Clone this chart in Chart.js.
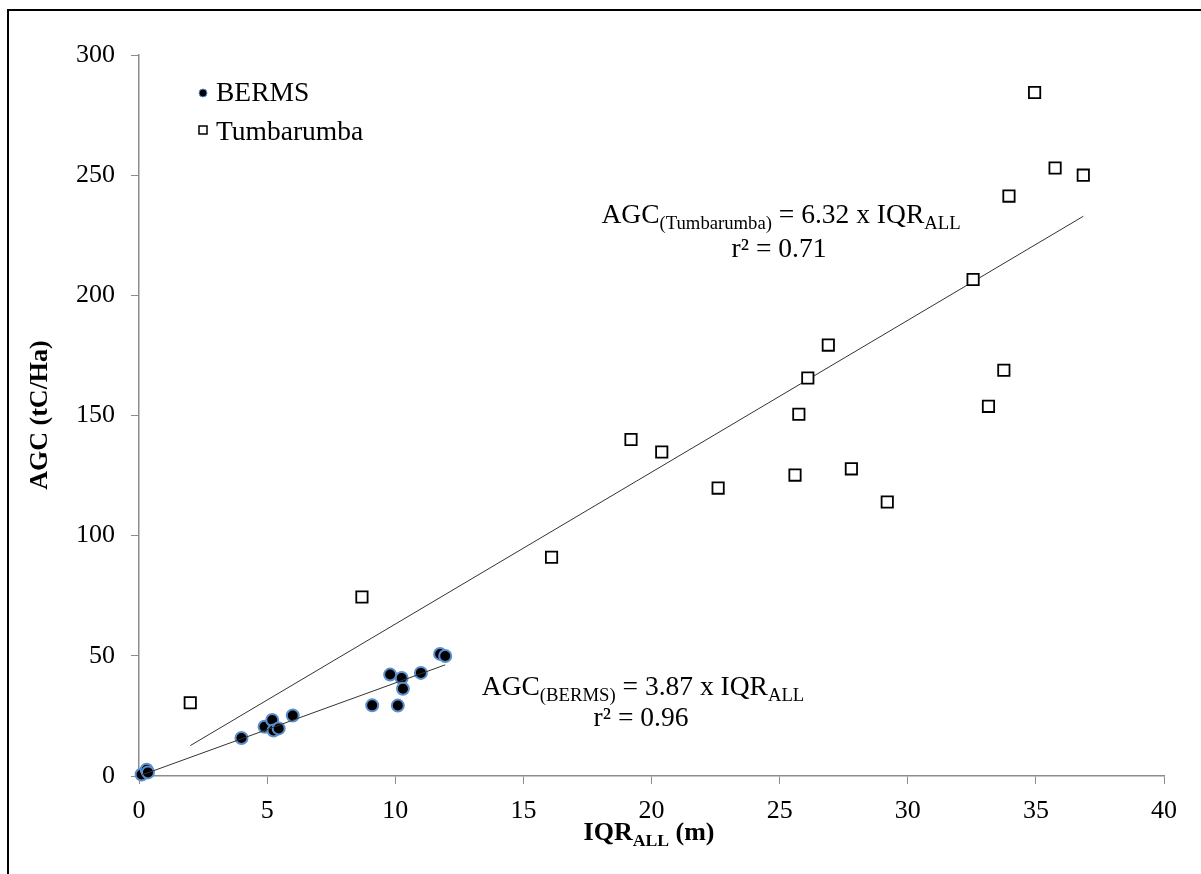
<!DOCTYPE html>
<html>
<head>
<meta charset="utf-8">
<script src="https://cdn.jsdelivr.net/npm/chart.js@4.4.1/dist/chart.umd.min.js"></script>
<style>
  html, body { margin: 0; padding: 0; background: #fff; overflow: hidden; }
  #wrap { position: relative; width: 1201px; height: 874px; }
  #frame { position: absolute; left: 7px; top: 9px; width: 1300px; height: 1000px;
           border-left: 2px solid #000; border-top: 2px solid #000; pointer-events: none; }
</style>
</head>
<body>
<div id="wrap">
  <canvas id="grafico" width="1201" height="874"></canvas>
  <div id="frame"></div>
</div>
<script>
// dados
const bermsX = [0.1, 0.3, 0.35, 4.0, 4.9, 5.2, 5.25, 5.45, 6.0, 9.1, 9.8, 10.1, 10.25, 10.3, 11.0, 11.75, 11.95];
const bermsY = [0.6, 2.6, 1.5, 15.8, 20.5, 23.3, 18.9, 19.8, 25.2, 29.4, 42.2, 29.3, 40.8, 36.3, 42.9, 50.8, 49.9];

const tumbaX = [2.0, 8.7, 16.1, 19.2, 20.4, 22.6, 25.6, 25.75, 26.1, 26.9, 27.8, 29.2, 32.55, 33.15, 33.75, 33.95, 34.95, 35.75, 36.85];
const tumbaY = [30.5, 74.5, 91.0, 140.0, 134.8, 119.8, 125.2, 150.5, 165.6, 179.3, 127.8, 114.0, 206.6, 153.8, 168.8, 241.3, 284.4, 253.0, 250.0];

// retas de regressão (inclinação e intervalo de x)
const bermsSlope = 3.87, bermsRange = [0.1, 11.95];
const tumbaSlope = 6.32, tumbaRange = [2.0, 36.85];

const xTicks = [0, 5, 10, 15, 20, 25, 30, 35, 40];
const yTicks = [0, 50, 100, 150, 200, 250, 300];

const FONTE = "'Liberation Serif', 'Times New Roman', serif";
const EIXO_COR = "#8c8c8c";

function pontos(xs, ys) {
    return xs.map((x, i) => ({ x: x, y: ys[i] }));
}

function reta(slope, range) {
    return range.map(x => ({ x: x, y: slope * x }));
}

// desenha texto com partes em subscrito
function textoRico(ctx, partes, x, y, tam, negrito, alinhar) {
    const peso = negrito ? "bold " : "";
    let total = 0;
    partes.forEach(p => {
        ctx.font = peso + (p.sub ? tam * 0.68 : tam) + "px " + FONTE;
        p.w = ctx.measureText(p.t).width;
        total += p.w;
    });
    let cx = alinhar === "center" ? x - total / 2 : x;
    ctx.textBaseline = "alphabetic";
    ctx.textAlign = "left";
    partes.forEach(p => {
        ctx.font = peso + (p.sub ? tam * 0.68 : tam) + "px " + FONTE;
        ctx.fillText(p.t, cx, p.sub ? y + tam * 0.22 : y);
        cx += p.w;
    });
}

const anotacoes = {
    id: "anotacoes",
    afterDraw(chart) {
        const ctx = chart.ctx;
        ctx.save();
        ctx.fillStyle = "#000";

        // título eixo x
        textoRico(ctx, [{ t: "IQR" }, { t: "ALL", sub: true }, { t: " (m)" }], 649, 840, 26, true, "center");

        // título eixo y
        ctx.save();
        ctx.translate(47, 415);
        ctx.rotate(-Math.PI / 2);
        ctx.font = "bold 26px " + FONTE;
        ctx.textAlign = "center";
        ctx.textBaseline = "alphabetic";
        ctx.fillText("AGC (tC/Ha)", 0, 0);
        ctx.restore();

        // equações
        textoRico(ctx, [{ t: "AGC" }, { t: "(Tumbarumba)", sub: true }, { t: " = 6.32 x IQR" }, { t: "ALL", sub: true }], 781, 223, 27.5, false, "center");
        textoRico(ctx, [{ t: "r² = 0.71" }], 779, 257, 27.5, false, "center");
        textoRico(ctx, [{ t: "AGC" }, { t: "(BERMS)", sub: true }, { t: " = 3.87 x IQR" }, { t: "ALL", sub: true }], 643, 695, 27.5, false, "center");
        textoRico(ctx, [{ t: "r² = 0.96" }], 641, 726, 27.5, false, "center");

        // legenda
        ctx.beginPath();
        ctx.arc(203, 93, 4, 0, Math.PI * 2);
        ctx.fillStyle = "#000";
        ctx.fill();
        ctx.strokeStyle = "#5b8fd0";
        ctx.lineWidth = 1;
        ctx.stroke();
        ctx.strokeStyle = "#000";
        ctx.lineWidth = 1.5;
        ctx.fillStyle = "#fff";
        ctx.fillRect(199, 126, 8, 8);
        ctx.strokeRect(199, 126, 8, 8);
        ctx.fillStyle = "#000";
        ctx.font = "27.5px " + FONTE;
        ctx.textBaseline = "middle";
        ctx.textAlign = "left";
        ctx.fillText("BERMS", 216, 94);
        ctx.fillText("Tumbarumba", 216, 133);
        ctx.restore();
    }
};

const ctx = document.getElementById("grafico").getContext("2d");

const chart = new Chart(ctx, {
    type: "scatter",
    data: {
        datasets: [
            {
                label: "BERMS",
                data: pontos(bermsX, bermsY),
                pointRadius: 6,
                pointBackgroundColor: "#000",
                pointBorderColor: "#5b8fd0",
                pointBorderWidth: 2,
                order: 1
            },
            {
                label: "Tumbarumba",
                data: pontos(tumbaX, tumbaY),
                pointStyle: "rect",
                pointRadius: 8,
                pointBackgroundColor: "#fff",
                pointBorderColor: "#000",
                pointBorderWidth: 1.8,
                order: 2
            },
            {
                type: "line",
                label: "ajuste Tumbarumba",
                data: reta(tumbaSlope, tumbaRange),
                borderColor: "#333",
                borderWidth: 1,
                pointRadius: 0,
                fill: false,
                order: 3
            },
            {
                type: "line",
                label: "ajuste BERMS",
                data: reta(bermsSlope, bermsRange),
                borderColor: "#333",
                borderWidth: 1,
                pointRadius: 0,
                fill: false,
                order: 0
            }
        ]
    },
    options: {
        responsive: false,
        animation: false,
        clip: false,
        layout: { padding: { left: 0, top: 55, right: 37, bottom: 0 } },
        plugins: {
            legend: { display: false },
            tooltip: { enabled: false }
        },
        scales: {
            x: {
                type: "linear",
                min: 0,
                max: 40,
                afterBuildTicks: s => { s.ticks = xTicks.map(v => ({ value: v })); },
                afterFit: s => { s.height = 98; },
                grid: { drawOnChartArea: false, drawTicks: true, tickLength: 8, color: EIXO_COR },
                border: { color: EIXO_COR, width: 1.5 },
                ticks: { color: "#000", font: { family: FONTE, size: 26 }, padding: 12 }
            },
            y: {
                type: "linear",
                min: 0,
                max: 300,
                afterBuildTicks: s => { s.ticks = yTicks.map(v => ({ value: v })); },
                afterFit: s => { s.width = 139; },
                grid: { drawOnChartArea: false, drawTicks: true, tickLength: 8, color: EIXO_COR },
                border: { color: EIXO_COR, width: 1.5 },
                ticks: { color: "#000", font: { family: FONTE, size: 26 }, padding: 16 }
            }
        }
    },
    plugins: [anotacoes]
});
</script>
</body>
</html>
